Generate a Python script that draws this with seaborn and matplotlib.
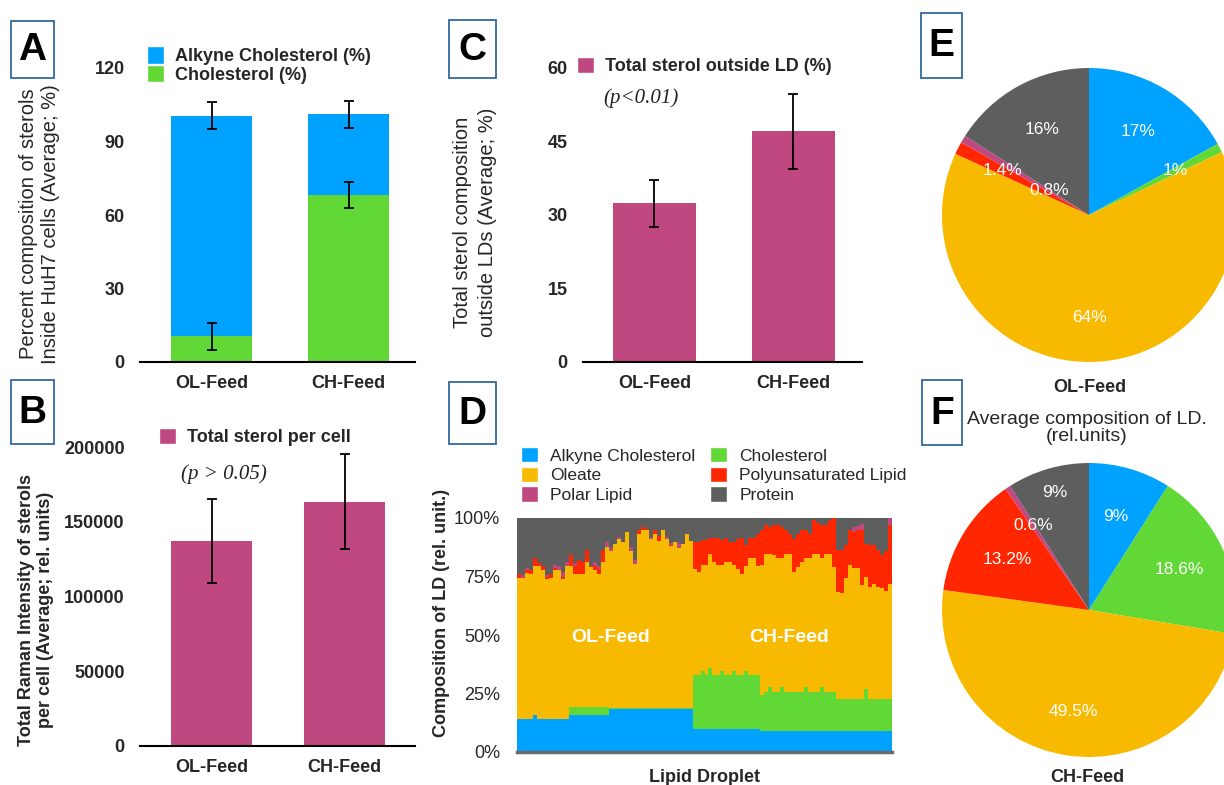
import numpy as np
import pandas as pd
import matplotlib
matplotlib.use("Agg")
import matplotlib.pyplot as plt
from matplotlib.patches import Patch, Rectangle
import seaborn as sns

# ---------------- data ----------------
feeds = ["OL-Feed", "CH-Feed"]

# Panel A (percent composition of sterols inside HuH7 cells)
a_cholesterol = [10.6, 68.2]
a_alkyne = [90.0, 33.0]
a_cholesterol_err = [5.5, 5.4]
a_alkyne_err = [5.5, 5.5]

# Panel B (total Raman intensity of sterols per cell)
b_total = [137000, 163500]
b_err = [28000, 32000]

# Panel C (total sterol outside LD, %)
c_outside = [32.4, 47.0]
c_err = [4.8, 7.7]

# Panel D (composition of individual lipid droplets, %) : 44 OL-Feed + 50 CH-Feed droplets
ld_alkyne = [14.1, 14.1, 14.1, 14.1, 15.8, 14.1, 14.1, 14.1, 14.1, 14.1, 14.1, 14.1, 14.1,
             15.8, 15.8, 15.8, 15.8, 15.8, 15.8, 15.8, 15.8, 15.8, 15.8,
             18.5, 18.5, 18.5, 18.5, 18.5, 18.5, 18.5, 18.5, 18.5, 18.5, 18.5, 18.5, 18.5, 18.5,
             18.5, 18.5, 18.5, 18.5, 18.5, 18.5, 18.5,
             10.0, 10.0, 10.0, 10.0, 10.0, 10.0, 10.0, 10.0, 10.0, 10.0, 10.0, 10.0, 10.0, 10.0,
             10.0, 10.0, 10.0,
             9.0, 9.0, 9.0, 9.0, 9.0, 9.0, 9.0, 9.0, 9.0, 9.0, 9.0, 9.0, 9.0, 9.0, 9.0, 9.0, 9.0,
             9.0, 9.0,
             9.0, 9.0, 9.0, 9.0, 9.0, 9.0, 9.0, 9.0, 9.0, 9.0, 9.0, 9.0, 9.0, 9.0]
ld_cholesterol = [0, 0, 0, 0, 0, 0, 0, 0, 0, 0, 0, 0, 0,
                  3.4, 3.4, 3.4, 3.4, 3.4, 3.4, 3.4, 3.4, 3.4, 3.4,
                  0.5, 0.5, 0.5, 0.5, 0.5, 0.5, 0.5, 0.5, 0.5, 0.5, 0.5, 0.5, 0.5, 0.5,
                  0.5, 0.5, 0.5, 0.5, 0.5, 0.5, 0.5,
                  23.0, 23.0, 24.5, 23.0, 26.0, 23.0, 23.0, 24.5, 23.0, 23.0, 24.5, 23.0, 23.0, 24.5,
                  23.0, 23.0, 23.0,
                  15.4, 16.5, 18.8, 16.5, 16.5, 18.8, 16.5, 16.5, 16.5, 16.5, 16.5, 18.8, 16.5, 16.5,
                  16.5, 18.8, 16.5, 16.5, 16.5,
                  13.6, 13.6, 13.6, 13.6, 13.6, 13.6, 13.6, 18.0, 13.6, 13.6, 13.6, 13.6, 13.6, 13.6]
ld_oleate = [60.1, 60.1, 62.4, 61.8, 63.8, 65.5, 63.7, 59.9, 60.4, 63.7, 63.7, 59.9, 65.5,
             60.4, 57.0, 57.0, 57.0, 61.8, 59.8, 58.6, 57.0, 62.1, 68.5,
             67.0, 70.0, 72.0, 70.9, 75.0, 67.0, 61.5, 74.0, 75.9, 75.9, 72.0, 74.0, 71.0, 75.9,
             72.0, 69.0, 70.9, 68.0, 70.0, 74.0, 71.0,
             45.0, 44.0, 45.4, 46.9, 48.5, 48.0, 46.9, 45.4, 48.3, 48.3, 45.4, 45.0, 43.0, 45.1,
             49.8, 49.8, 46.6,
             55.6, 59.0, 56.7, 58.7, 57.3, 55.0, 59.0, 59.0, 51.5, 53.5, 55.8, 55.0, 57.3, 59.0,
             59.0, 55.0, 59.0, 59.0, 53.7,
             45.9, 45.4, 51.6, 57.3, 55.9, 55.9, 48.8, 48.0, 48.1, 49.4, 48.1, 47.4, 46.4, 49.4]
ld_pufa = [1.7, 0, 1.2, 1.7, 3.1, 1.0, 1.8, 0.8, 1.4, 0.8, 0, 1.0, 0,
           4.8, 3.4, 6.0, 4.8, 5.3, 0.5, 1.8, 2.0, 5.0, 0,
           0, 0, 0, 0, 0, 0, 0, 1.8, 1.4, 0.5, 0, 1.8, 2.5, 0,
           0, 0.5, 0, 0, 0, 0, 0,
           11.9, 12.9, 10.6, 10.6, 6.8, 10.3, 11.4, 10.6, 10.0, 8.6, 10.0, 13.0, 15.3, 8.9,
           8.5, 8.5, 13.4,
           15.0, 12.5, 11.5, 12.8, 14.2, 13.2, 10.4, 8.5, 14.0, 14.0, 13.6, 12.2, 10.2, 14.5,
           13.5, 14.2, 12.5, 14.5, 20.8,
           17.8, 18.3, 14.3, 15.1, 15.5, 16.4, 23.5, 14.0, 17.8, 16.5, 15.6, 14.2, 17.0, 25.0]
ld_polar = [0, 1.5, 1.0, 0, 0, 0, 0, 1.0, 0, 1.4, 1.5, 2.0, 1.4,
            0, 1.0, 0, 0, 0, 0, 1.4, 1.5, 0, 1.9,
            1.0, 0, 1.0, 0, 0, 1.4, 1.4, 0, 0, 0, 1.0, 0, 0, 0,
            1.0, 1.0, 0, 2.5, 0, 0, 0,
            0, 0, 0, 0, 0, 0, 0, 0, 0, 0, 0, 0, 0, 0,
            0, 0, 0,
            0, 0, 0, 0, 0, 0, 0, 0, 0, 0, 0, 0, 0, 0,
            0, 0, 0, 0, 0,
            0, 0, 0, 0, 2.0, 1.5, 2.5, 0, 0, 0, 0, 0, 0, 3.0]
ld_protein = [24.1, 24.3, 21.3, 22.4, 17.3, 19.4, 20.4, 24.2, 24.1, 20.0, 20.7, 23.0, 19.0,
              15.6, 19.4, 17.8, 19.0, 13.7, 20.5, 19.0, 20.3, 13.7, 10.4,
              13.0, 11.0, 8.0, 10.1, 6.0, 12.6, 18.1, 5.2, 3.7, 4.6, 8.0, 5.2, 7.5, 5.1,
              8.0, 10.5, 10.1, 10.5, 11.0, 7.0, 10.0,
              10.1, 10.1, 9.5, 9.5, 8.7, 8.7, 8.7, 9.5, 8.7, 10.1, 10.1, 9.0, 8.7, 11.5,
              8.7, 8.7, 7.0,
              5.0, 3.0, 4.0, 3.0, 3.0, 4.0, 5.1, 7.0, 9.0, 7.0, 5.1, 5.0, 7.0, 1.0,
              2.0, 3.0, 3.0, 1.0, 0.0,
              13.7, 13.7, 11.5, 5.0, 4.0, 3.6, 2.6, 11.0, 11.5, 11.5, 13.7, 15.8, 14.0, 0.0]

# Panels E / F (average composition of LD)
pie_components = ["Alkyne Cholesterol", "Cholesterol", "Oleate",
                  "Polyunsaturated Lipid", "Polar Lipid", "Protein"]
e_values = [17, 1, 64, 1.4, 0.8, 16]
e_labels = ["17%", "1%", "64%", "1.4%", "0.8%", "16%"]
f_values = [9, 18.6, 49.5, 13.2, 0.6, 9]
f_labels = ["9%", "18.6%", "49.5%", "13.2%", "0.6%", "9%"]

# ---------------- style ----------------
BLUE = "#00A2FF"
GREEN = "#61D836"
YELLOW = "#F8BA00"
RED = "#FF2600"
MAGENTA = "#C04880"
GRAY = "#5E5E5E"
comp_colors = [BLUE, GREEN, YELLOW, RED, MAGENTA, GRAY]

sns.set_theme(style="white")
plt.rcParams['font.family'] = ['Liberation Sans', 'DejaVu Sans']

W, H = 1224, 785
fig = plt.figure(figsize=(W / 100, H / 100), dpi=100)


def add_ax(x0, y0, x1, y1):
    return fig.add_axes([x0 / W, 1 - y1 / H, (x1 - x0) / W, (y1 - y0) / H])


def px(x, y):
    return x / W, 1 - y / H


def style_bar_axes(ax):
    for s in ["top", "right", "left"]:
        ax.spines[s].set_visible(False)
    ax.spines["bottom"].set_color("black")
    ax.spines["bottom"].set_linewidth(1.5)
    ax.tick_params(axis="both", length=0, labelsize=13)
    ax.tick_params(axis="y", pad=11)
    ax.tick_params(axis="x", pad=9)
    for lab in ax.get_xticklabels() + ax.get_yticklabels():
        lab.set_fontweight("bold")
    ax.set_xlabel("")
    ax.grid(False)
    ax.set_facecolor("none")


def set_ylabel_px(ax, text, x0, y0, x1, y1, cx, cy, **kw):
    ax.set_ylabel(text, **kw)
    ax.yaxis.label.set_va("center")
    ax.yaxis.label.set_ha("center")
    ax.yaxis.set_label_coords((cx - x0) / (x1 - x0), (y1 - cy) / (y1 - y0))


def letter_box(letter, x0, y0, x1, y1):
    fig.patches.append(Rectangle(px(x0, y1), (x1 - x0) / W, (y1 - y0) / H,
                                 transform=fig.transFigure, facecolor="white",
                                 edgecolor="#2F6AA0", linewidth=1.3, zorder=5))
    cx, cy = px((x0 + x1) / 2, (y0 + y1) / 2 + 1)
    fig.text(cx, cy, letter, ha="center", va="center", fontsize=28,
             fontweight="bold", color="black", zorder=6)


err_kw = dict(fmt="none", ecolor="black", elinewidth=1.3, capsize=3.5, capthick=1.3, zorder=5)
legend_kw = dict(frameon=False, borderpad=0, borderaxespad=0, handletextpad=0.6,
                 bbox_transform=fig.transFigure, loc="upper left")

# ---------------- Panel A ----------------
A_box = (140, 68, 415, 362)
axA = add_ax(*A_box)
dfA = pd.DataFrame({"feed": feeds,
                    "total": np.add(a_cholesterol, a_alkyne),
                    "chol": a_cholesterol})
sns.barplot(data=dfA, x="feed", y="total", color=BLUE, saturation=1, width=0.59,
            errorbar=None, linewidth=0, ax=axA)
sns.barplot(data=dfA, x="feed", y="chol", color=GREEN, saturation=1, width=0.59,
            errorbar=None, linewidth=0, ax=axA)
axA.errorbar([0, 1], dfA["total"], yerr=a_alkyne_err, **err_kw)
axA.errorbar([0, 1], dfA["chol"], yerr=a_cholesterol_err, **err_kw)
axA.set_ylim(0, 120)
axA.set_yticks([0, 30, 60, 90, 120])
axA.set_xlim(-0.522, 1.485)
style_bar_axes(axA)
set_ylabel_px(axA, "Percent composition of sterols\nInside HuH7 cells (Average; %)",
              *A_box, 40, 224, fontsize=14.5, linespacing=1.2)
axA.legend(handles=[Patch(facecolor=BLUE, label="Alkyne Cholesterol (%)"),
                    Patch(facecolor=GREEN, label="Cholesterol (%)")],
           bbox_to_anchor=px(147, 46), handlelength=0.95, handleheight=1.12,
           labelspacing=0.0, prop={"weight": "bold", "size": 13}, **legend_kw)

# ---------------- Panel B ----------------
B_box = (140, 447, 415, 746)
axB = add_ax(*B_box)
dfB = pd.DataFrame({"feed": feeds, "total": b_total})
sns.barplot(data=dfB, x="feed", y="total", color=MAGENTA, saturation=1, width=0.61,
            errorbar=None, linewidth=0, ax=axB)
axB.errorbar([0, 1], dfB["total"], yerr=b_err, **err_kw)
axB.set_ylim(0, 200000)
b_ticks = [0, 50000, 100000, 150000, 200000]
axB.set_yticks(b_ticks, labels=[str(t) for t in b_ticks])
axB.set_xlim(-0.538, 1.53)
style_bar_axes(axB)
set_ylabel_px(axB, "Total Raman Intensity of sterols\nper cell (Average; rel. units)",
              *B_box, 36, 610, fontsize=13, fontweight="bold", linespacing=1.15)
axB.legend(handles=[Patch(facecolor=MAGENTA, label="Total sterol per cell")],
           bbox_to_anchor=px(159, 428), handlelength=0.95, handleheight=0.95,
           prop={"weight": "bold", "size": 13}, **legend_kw)
fig.text(*px(224, 474), "(p > 0.05)", ha="center", va="center", fontsize=15,
         family=["Liberation Serif", "DejaVu Serif"], style="italic", color="#222222")

# ---------------- Panel C ----------------
C_box = (583, 67.7, 862, 362)
axC = add_ax(*C_box)
dfC = pd.DataFrame({"feed": feeds, "outside": c_outside})
sns.barplot(data=dfC, x="feed", y="outside", color=MAGENTA, saturation=1, width=0.6,
            errorbar=None, linewidth=0, ax=axC)
axC.errorbar([0, 1], dfC["outside"], yerr=c_err, **err_kw)
axC.set_ylim(0, 60)
axC.set_yticks([0, 15, 30, 45, 60])
axC.set_xlim(-0.514, 1.493)
style_bar_axes(axC)
set_ylabel_px(axC, "Total sterol composition\noutside LDs (Average; %)",
              *C_box, 475, 222, fontsize=14.5, linespacing=1.4)
axC.legend(handles=[Patch(facecolor=MAGENTA, label="Total sterol outside LD (%)")],
           bbox_to_anchor=px(577, 57), handlelength=0.95, handleheight=0.95,
           prop={"weight": "bold", "size": 13}, **legend_kw)
fig.text(*px(641, 98), "(p<0.01)", ha="center", va="center", fontsize=15,
         family=["Liberation Serif", "DejaVu Serif"], style="italic", color="#222222")

# ---------------- Panel D ----------------
D_box = (517, 518, 892, 752)
axD = add_ax(*D_box)
layers = [ld_alkyne, ld_cholesterol, ld_oleate, ld_pufa, ld_polar, ld_protein]
cum = np.cumsum(np.array(layers, dtype=float), axis=0)
dfD = pd.DataFrame({"droplet": np.arange(len(ld_alkyne))})
for i in range(len(layers)):
    dfD[f"c{i}"] = cum[i]
for i in reversed(range(len(layers))):
    sns.barplot(data=dfD, x="droplet", y=f"c{i}", color=comp_colors[i], saturation=1,
                width=1.0, errorbar=None, linewidth=0, antialiased=False, ax=axD)
axD.set_xlim(-0.5, len(ld_alkyne) - 0.5)
axD.set_ylim(0, 100)
axD.set_yticks([0, 25, 50, 75, 100], labels=["0%", "25%", "50%", "75%", "100%"])
axD.set_xticks([])
for s in ["top", "right", "left"]:
    axD.spines[s].set_visible(False)
axD.spines["bottom"].set_color("#6A6A6A")
axD.spines["bottom"].set_linewidth(2.5)
axD.tick_params(axis="both", length=0, labelsize=13)
axD.tick_params(axis="y", pad=12)
axD.grid(False)
set_ylabel_px(axD, "Composition of LD (rel. unit.)", *D_box, 441, 613,
              fontsize=13, fontweight="bold")
axD.set_xlabel("Lipid Droplet", fontsize=13, fontweight="bold")
axD.xaxis.label.set_va("center")
axD.xaxis.set_label_coords(0.5, (752 - 778) / 234)
axD.text((611 - 517) / 375, (752 - 637) / 234, "OL-Feed", transform=axD.transAxes,
         ha="center", va="center", color="white", fontsize=14, fontweight="bold")
axD.text((789 - 517) / 375, (752 - 637) / 234, "CH-Feed", transform=axD.transAxes,
         ha="center", va="center", color="white", fontsize=14, fontweight="bold")
d_handles = [Patch(facecolor=comp_colors[i], label=pie_components[i]) for i in range(6)]
# column order: (Alkyne, Oleate, Polar) | (Cholesterol, PUFA, Protein)
d_order = [0, 2, 4, 1, 3, 5]
axD.legend(handles=[d_handles[i] for i in d_order], ncol=2,
           bbox_to_anchor=px(521, 447), handlelength=0.98, handleheight=0.98,
           labelspacing=0.18, columnspacing=0.85, handletextpad=0.7,
           prop={"size": 12.5}, frameon=False, borderpad=0, borderaxespad=0,
           bbox_transform=fig.transFigure, loc="upper left")

# ---------------- Panels E / F ----------------
e_radii = [0.66, 0.66, 0.70, 0.66, 0.32, 0.66]
f_radii = [0.66, 0.67, 0.70, 0.65, 0.69, 0.83]


def draw_pie(cx, cy, r, values, labels, radii):
    ax = add_ax(cx - r, cy - r, cx + r, cy + r)
    wedges, _ = ax.pie(values, colors=comp_colors, startangle=90, counterclock=False,
                       radius=1, wedgeprops=dict(linewidth=0))
    for w, lab, rr in zip(wedges, labels, radii):
        ang = np.deg2rad((w.theta1 + w.theta2) / 2)
        ax.text(rr * np.cos(ang), rr * np.sin(ang), lab, ha="center", va="center",
                color="white", fontsize=12.5)
    ax.set_xlim(-1, 1)
    ax.set_ylim(-1, 1)
    ax.set_aspect("equal")
    ax.axis("off")
    return ax


draw_pie(1089, 215, 147, e_values, e_labels, e_radii)
draw_pie(1089, 610, 147, f_values, f_labels, f_radii)
fig.text(*px(1090, 387), "OL-Feed", ha="center", va="center", fontsize=13, fontweight="bold")
fig.text(*px(1087, 778), "CH-Feed", ha="center", va="center", fontsize=13, fontweight="bold")
fig.text(*px(1087, 428), "Average composition of LD.\n(rel.units)", ha="center",
         va="center", fontsize=14, linespacing=1.0)

# ---------------- panel letters ----------------
letter_box("A", 11, 21, 54, 78)
letter_box("B", 11, 380, 54, 444)
letter_box("C", 449, 20, 496, 78)
letter_box("D", 449, 382, 496, 444)
letter_box("E", 921, 13, 962, 78)
letter_box("F", 922, 380, 962, 445)

fig.savefig("out.png", dpi=100, facecolor="white")
